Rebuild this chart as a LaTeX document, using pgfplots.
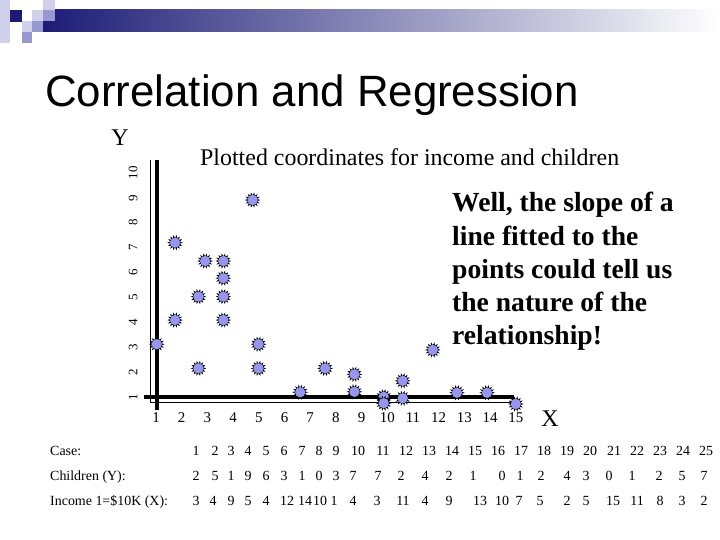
\documentclass[border=0pt]{standalone}
\usepackage{pgfplots}
\pgfplotsset{compat=1.18}
\usepackage{fontspec}
\setmainfont{Liberation Serif}
\newfontfamily\arial{Liberation Sans}

\definecolor{splatblue}{RGB}{150,150,240}
\definecolor{navy}{RGB}{28,28,118}
\definecolor{lavlt}{RGB}{208,208,236}
\definecolor{lavmd}{RGB}{152,152,208}

% spiky blob used for every point
\pgfdeclareplotmark{splat}{%
  \pgfpathmoveto{\pgfqpointpolar{0}{7.8pt}}%
  \foreach \a in {1,...,27}{%
    \ifodd\a \def\r{4.8pt}\else\def\r{7.8pt}\fi
    \pgfpathlineto{\pgfpointpolar{\a*12.857}{\r}}}%
  \pgfpathclose
  \pgfsetfillcolor{black}\pgfusepath{fill}%
  \pgfpathcircle{\pgfpointorigin}{5.2pt}%
  \pgfsetfillcolor{splatblue}\pgfusepath{fill}}

\newcommand\tabfont{\fontsize{14}{14}\selectfont}

\begin{document}
\begin{tikzpicture}[x=1bp,y=1bp]
\useasboundingbox (0,0) rectangle (720,540);
\fill[white] (0,0) rectangle (720,540);

% slide header
\shade[left color=navy, right color=white] (43,508) rectangle (720,530);
\fill[lavlt] (0,497) rectangle (10,540);
\fill[navy] (10,518) rectangle (22,530);
\fill[lavlt] (32,519) rectangle (43,530);
\fill[lavlt] (43,530) rectangle (55,540);
\fill[lavmd] (43,519) rectangle (55,530);
\fill[lavlt] (22,508) rectangle (32,519);
\fill[lavmd] (32,508) rectangle (43,519);
\fill[lavmd] (22,497) rectangle (32,508);

\node[anchor=base west, inner sep=0, font=\arial\fontsize{44}{44}\selectfont]
  at (45,433) {Correlation and Regression};

\node[anchor=base west, inner sep=0, font=\fontsize{24}{24}\selectfont]
  at (200,374) {Plotted coordinates for income and children};

\begin{axis}[
  at={(150.1bp,138bp)}, anchor=south west,
  x=25.7bp, y=24.9bp,
  xmin=0.77, xmax=15.0, ymin=0.8, ymax=10.5,
  axis x line*=bottom, axis y line*=left,
  axis line style={line width=0.7pt, -},
  xtick={1,...,15}, ytick={1,...,10},
  major tick length=0pt, tick style={draw=none},
  clip=false,
  /pgf/number format/assume math mode=true,
  xticklabel style={anchor=center, yshift=-16bp, font=\fontsize{15}{15}\selectfont},
  yticklabel style={xshift=-17bp, rotate=90, anchor=center, font=\fontsize{13}{13}\selectfont},
]
\draw[line width=4bp] (axis cs:0.53,1) -- (axis cs:14.93,1);
\draw[line width=4bp] (axis cs:1.04,10.5) -- (axis cs:1.04,0.48);
\addplot[only marks, mark=splat] coordinates {
(1.03,3.12) (1.74,7.2) (1.74,4.09) (2.65,5.03) (2.65,2.15)
(2.91,6.46) (3.62,6.46) (3.62,5.77) (3.62,5.03) (3.62,4.09)
(4.76,8.91) (4.99,3.12) (4.99,2.15) (6.61,1.19) (7.58,2.15)
(8.72,1.91) (8.72,1.21) (9.86,1.01) (9.86,0.75) (10.6,1.65)
(10.6,0.95) (11.77,2.89) (12.71,1.17) (13.88,1.17) (15.0,0.72)
};
\end{axis}

\node[font=\fontsize{24}{24}\selectfont, inner sep=0] at (120,402) {Y};
\node[font=\fontsize{24}{24}\selectfont, inner sep=0] at (550,121) {X};

% note on the right
\begin{scope}[every node/.style={anchor=base west, inner sep=0,
    font=\bfseries\fontsize{27.7}{27.7}\selectfont}]
\node at (452,328) {Well, the slope of a};
\node at (452,294.5) {line fitted to the};
\node at (452,261) {points could tell us};
\node at (452,228) {the nature of the};
\node at (452,195) {relationship!};
\end{scope}

% data table
\begin{scope}[every node/.style={inner sep=0, font=\tabfont}]
\node[anchor=base west] at (50,84) {Case:};
\node[anchor=base west] at (50,59) {Children (Y):};
\node[anchor=base west] at (50,34) {Income 1=\$10K (X):};
\foreach \v/\p in {1/196,2/215,3/231,4/248,5/266,6/284,7/302,8/319,9/336,
  10/358,11/383,12/406,13/429,14/452,15/475,16/498,17/521,18/544,19/567,
  20/590,21/614,22/637,23/660,24/683,25/706}
  \node[anchor=base] at (\p,84) {\v};
\foreach \v/\p in {2/196,5/215,1/231,9/248,6/266,3/284,1/302,0/319,3/336,
  7/353,7/378,2/401,4/425,2/449,1/473,0/502,1/520,2/541,4/567,3/586,
  0/609,1/632,2/659,5/682,7/704}
  \node[anchor=base] at (\p,59) {\v};
\foreach \v/\p in {3/196,4/213,9/231,5/248,4/266,12/287,14/305,10/320,1/334,
  4/353,3/377,11/403,4/425,9/449,13/480,10/502,7/519,5/540,2/567,5/586,
  15/613,11/637,8/660,3/682,2/704}
  \node[anchor=base] at (\p,34) {\v};
\end{scope}
\end{tikzpicture}
\end{document}
